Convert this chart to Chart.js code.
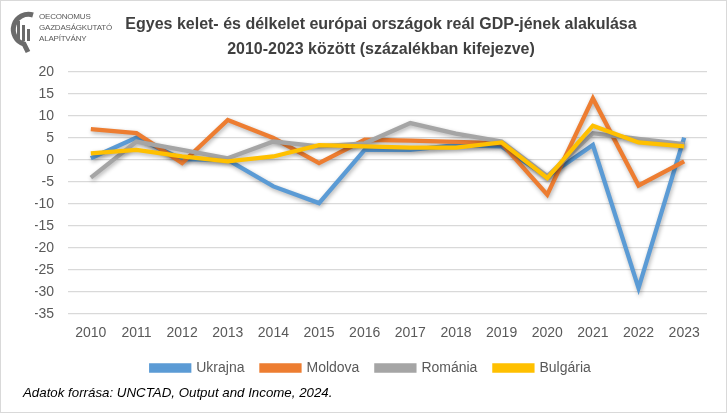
<!DOCTYPE html>
<html lang="hu">
<head>
<meta charset="utf-8">
<script src="https://cdn.jsdelivr.net/npm/chart.js@4.4.1/dist/chart.umd.min.js"></script>
<style>
  html, body { margin: 0; padding: 0; background: #fff; }
  #wrap { position: relative; width: 727px; height: 413px; box-sizing: border-box; border: 1px solid #d9d9d9; overflow: hidden; font-family: "Liberation Sans", Arial, sans-serif; }
  #chartBox { position: absolute; left: 0; top: 0; width: 727px; height: 413px; }
  #title { position: absolute; left: 0; width: 760px; top: 10px; text-align: center; font-weight: bold; font-size: 16px; line-height: 25px; color: #404040; }
  #source { position: absolute; left: 22px; top: 384px; font-style: italic; font-size: 13.3px; color: #000; }
  #logo { position: absolute; left: 5px; top: 5px; }
  #logoText { position: absolute; left: 38px; top: 10px; font-size: 8px; line-height: 11px; color: #595959; letter-spacing: -0.2px; }
</style>
</head>
<body>
<div id="wrap">
  <div id="chartBox"><canvas id="gdpChart"></canvas></div>
  <svg id="logo" width="36" height="50" viewBox="0 0 36 50">
    <path d="M27 9 A15 15 0 1 0 18 38 L22 46" fill="none" stroke="#6b6b6b" stroke-width="5"/>
    <rect x="11" y="15" width="3" height="20" fill="#6b6b6b"/>
    <rect x="16" y="19" width="3" height="16" fill="#6b6b6b"/>
    <rect x="21" y="23" width="3" height="12" fill="#6b6b6b"/>
  </svg>
  <div id="logoText">OECONOMUS<br>GAZDASÁGKUTATÓ<br>ALAPÍTVÁNY</div>
  <div id="title">Egyes kelet- és délkelet európai országok reál GDP-jének alakulása<br>2010-2023 között (százalékban kifejezve)</div>
  <div id="source">Adatok forrása: UNCTAD, Output and Income, 2024.</div>
</div>
<script>
const years     = ['2010','2011','2012','2013','2014','2015','2016','2017','2018','2019','2020','2021','2022','2023'];
const ukrajna   = [0.4, 5.1, 0.2, 0.0, -6.0, -9.8, 2.3, 2.3, 3.4, 3.1, -3.8, 3.4, -29.1, 5.1];
const moldova   = [7.0, 6.1, -0.7, 9.1, 5.0, -0.7, 4.6, 4.4, 4.1, 3.8, -7.9, 14.0, -5.8, -0.3];
const romania   = [-4.0, 4.2, 2.3, 0.4, 4.2, 3.1, 3.8, 8.4, 6.0, 4.2, -3.7, 6.1, 4.8, 3.6];
const bulgaria  = [1.5, 2.3, 0.8, -0.3, 0.8, 3.4, 3.1, 2.8, 2.8, 4.0, -4.1, 7.8, 4.0, 3.1];

const tickFont  = { family: '"Liberation Sans", Arial, sans-serif', size: 14 };

function line(label, data, color, order) {
    return { label, data, borderColor: color, backgroundColor: color, borderWidth: 4.3, pointRadius: 0, tension: 0, order };
}

const shadowPlugin = {
    id: 'lineShadow',
    beforeDatasetsDraw(chart) {
        const c = chart.ctx;
        c.save();
        c.shadowColor = 'rgba(0,0,0,0.3)';
        c.shadowBlur = 4;
        c.shadowOffsetX = 1;
        c.shadowOffsetY = 2;
    },
    afterDatasetsDraw(chart) { chart.ctx.restore(); }
};

new Chart(document.getElementById('gdpChart'), {
    type: 'line',
    data: {
        labels: years,
        datasets: [
            line('Ukrajna',  ukrajna,  '#5b9bd5', 4),
            line('Moldova',  moldova,  '#ed7d31', 3),
            line('Románia',  romania,  '#a5a5a5', 2),
            line('Bulgária', bulgaria, '#ffc000', 1)
        ]
    },
    options: {
        responsive: true, maintainAspectRatio: false, animation: false,
        layout: { padding: { top: 71, right: 21, bottom: 29, left: 34 } },
        plugins: {
            tooltip: { enabled: false },
            legend: {
                position: 'bottom',
                labels: {
                    boxWidth: 38, boxHeight: 5, padding: 17, color: '#595959', font: tickFont,
                    sort: (a, b) => a.datasetIndex - b.datasetIndex
                }
            }
        },
        scales: {
            x: {
                offset: true,
                grid: { display: false, drawTicks: false },
                border: { display: false },
                ticks: { color: '#595959', font: tickFont, padding: 11, maxRotation: 0 },
                afterFit: s => { s.height = 30; }
            },
            y: {
                min: -35, max: 20,
                grid: { color: '#d9d9d9', lineWidth: 1.3, drawTicks: false },
                border: { display: false },
                ticks: { stepSize: 5, color: '#595959', font: tickFont, padding: 14 },
                afterFit: s => { s.width = 33; }
            }
        }
    },
    plugins: [shadowPlugin]
});
</script>
</body>
</html>
